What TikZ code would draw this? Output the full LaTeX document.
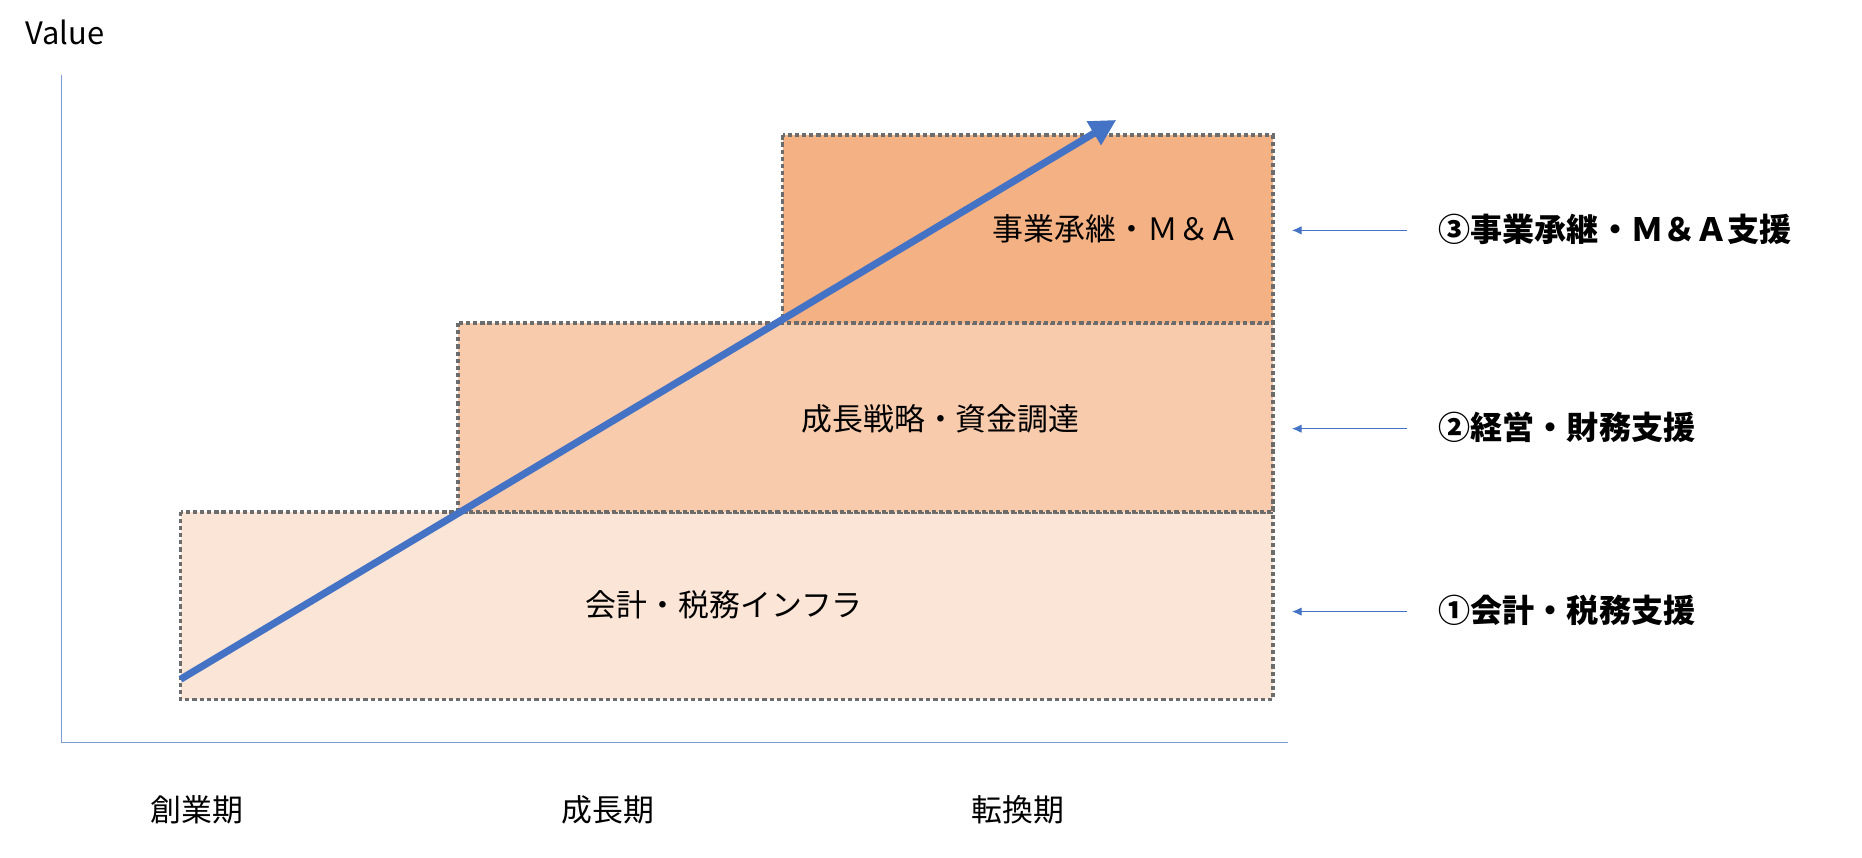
\documentclass[tikz,border=0pt]{standalone}
\usepackage{fontspec}
\setmainfont{Noto Sans CJK JP}
\usetikzlibrary{arrows.meta}
\definecolor{ax}{HTML}{4472C4}
\definecolor{c1}{HTML}{FBE5D6}
\definecolor{c2}{HTML}{F8CBAD}
\definecolor{c3}{HTML}{F4B183}
\begin{document}
\begin{tikzpicture}[x=1pt,y=-1pt,
 box/.style={draw=gray!85!black,line width=3.2pt,dash pattern=on 3.5pt off 2.5pt},
 lbl/.style={font=\fontsize{26}{30}\selectfont},
 side/.style={font=\bfseries\fontsize{27}{32}\selectfont,anchor=west},
 sm/.style={draw=ax,line width=0.8pt,-{Latex[length=8pt,width=7pt]}}]
\useasboundingbox (0,0) rectangle (1568,722);
\coordinate (o) at (52,625); \coordinate (yt) at (52,63); \coordinate (xr) at (1085,625);
\draw[ax!70,line width=0.8pt] (yt) -- (o) -- (xr);
\node[lbl,anchor=west] (v) at (18,27) {Value};
\filldraw[box,fill=c1] (152,431) rectangle (1072,589);
\filldraw[box,fill=c2] (386,272) rectangle (1072,431);
\filldraw[box,fill=c3] (659,114) rectangle (1072,272);
\node[lbl] (t1) at (610,509) {会計・税務インフラ};
\node[lbl] (t2) at (792,353) {成長戦略・資金調達};
\node[lbl] (t3) at (940,193) {事業承継・Ｍ＆Ａ};
\coordinate (as) at (152,572); \coordinate (ae) at (940,101);
\draw[ax,line width=6pt,-{Triangle[length=22pt,width=22pt]}] (as) -- (ae);
\node[side] (s3) at (1208,193) {③事業承継・Ｍ＆Ａ支援};
\node[side] (s2) at (1208,360) {②経営・財務支援};
\node[side] (s1) at (1208,514) {①会計・税務支援};
\coordinate (e3) at (1088,194); \coordinate (e2) at (1088,361); \coordinate (e1) at (1088,515);
\draw[sm] (1185,194) -- (e3);
\draw[sm] (1185,361) -- (e2);
\draw[sm] (1185,515) -- (e1);
\node[lbl] (x1) at (166,682) {創業期};
\node[lbl] (x2) at (512,682) {成長期};
\node[lbl] (x3) at (857,682) {転換期};
\end{tikzpicture}
\end{document}
